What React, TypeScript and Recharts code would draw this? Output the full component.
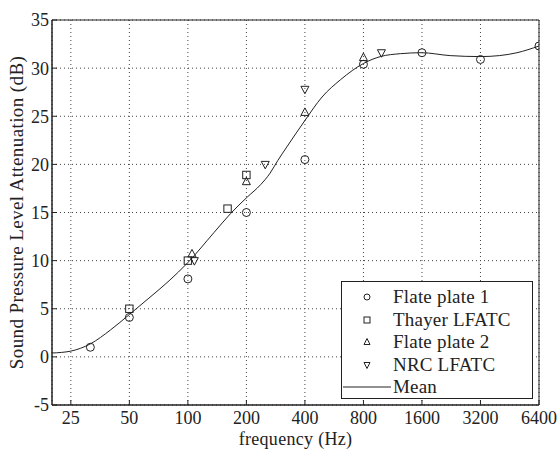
import React from 'react';
import {
  ComposedChart, Line, Scatter, XAxis, YAxis, CartesianGrid, ReferenceArea, Legend, Label,
} from 'recharts';

const xTicks = [25, 50, 100, 200, 400, 800, 1600, 3200, 6400];
const yTicks = [-5, 0, 5, 10, 15, 20, 25, 30, 35];

const flatePlate1 = [
  { f: 31.5, v: 1.0 }, { f: 50, v: 4.1 }, { f: 100, v: 8.1 }, { f: 200, v: 15.0 },
  { f: 400, v: 20.5 }, { f: 800, v: 30.4 }, { f: 1600, v: 31.6 }, { f: 3200, v: 30.9 },
  { f: 6400, v: 32.3 },
];
const thayer = [
  { f: 50, v: 5.0 }, { f: 100, v: 10.0 }, { f: 160, v: 15.4 }, { f: 200, v: 18.9 },
];
const flatePlate2 = [
  { f: 105, v: 10.7 }, { f: 200, v: 18.2 }, { f: 400, v: 25.4 }, { f: 800, v: 31.1 },
];
const nrc = [
  { f: 108, v: 10.0 }, { f: 250, v: 20.0 }, { f: 400, v: 27.8 }, { f: 990, v: 31.6 },
];
const mean = [
  { f: 20, v: 0.4 }, { f: 25, v: 0.6 }, { f: 31.5, v: 1.35 }, { f: 40, v: 2.8 },
  { f: 50, v: 4.4 }, { f: 63, v: 6.1 }, { f: 80, v: 7.9 }, { f: 100, v: 9.8 },
  { f: 136, v: 12.9 }, { f: 166, v: 14.9 }, { f: 202, v: 16.6 }, { f: 237, v: 17.9 },
  { f: 265, v: 19.1 }, { f: 290, v: 20.4 }, { f: 325, v: 21.9 }, { f: 395, v: 24.4 },
  { f: 490, v: 27.0 }, { f: 610, v: 28.8 }, { f: 803, v: 30.5 }, { f: 978, v: 31.2 },
  { f: 1238, v: 31.5 }, { f: 1590, v: 31.6 }, { f: 2235, v: 31.3 }, { f: 3200, v: 31.2 },
  { f: 4000, v: 31.3 }, { f: 4930, v: 31.6 }, { f: 6400, v: 32.3 },
];

const INK = '#222';
const FONT = "'Liberation Serif', 'Times New Roman', Times, 'DejaVu Serif', serif";

const CircleShape = (p: any) => (
  <circle cx={p.cx} cy={p.cy} r={4} fill="none" stroke={INK} strokeWidth={1} />
);
const SquareShape = (p: any) => (
  <rect x={p.cx - 3.7} y={p.cy - 3.7} width={7.4} height={7.4} fill="none" stroke={INK} strokeWidth={1} />
);
const TriUpShape = (p: any) => (
  <path d={`M${p.cx},${p.cy - 4.5} L${p.cx + 4},${p.cy + 3} L${p.cx - 4},${p.cy + 3} Z`} fill="none" stroke={INK} strokeWidth={1} />
);
const TriDownShape = (p: any) => (
  <path d={`M${p.cx},${p.cy + 4.5} L${p.cx + 4},${p.cy - 3} L${p.cx - 4},${p.cy - 3} Z`} fill="none" stroke={INK} strokeWidth={1} />
);

const NoLabel = () => <g />;

const legendItems = [
  { name: 'Flate plate 1', kind: 'circle' },
  { name: 'Thayer LFATC', kind: 'square' },
  { name: 'Flate plate 2', kind: 'up' },
  { name: 'NRC LFATC', kind: 'down' },
  { name: 'Mean', kind: 'line' },
];

const LegendIcon = ({ kind }: { kind: string }) => {
  const c = 12;
  const cy = 10;
  if (kind === 'circle') return <circle cx={c} cy={cy} r={3} fill="none" stroke={INK} />;
  if (kind === 'square') return <rect x={c - 3} y={cy - 3} width={6} height={6} fill="none" stroke={INK} />;
  if (kind === 'up') return <path d={`M${c},${cy - 3.5} L${c + 3},${cy + 2.5} L${c - 3},${cy + 2.5} Z`} fill="none" stroke={INK} />;
  if (kind === 'down') return <path d={`M${c},${cy + 3.5} L${c + 3},${cy - 2.5} L${c - 3},${cy - 2.5} Z`} fill="none" stroke={INK} />;
  return <line x1={-12} x2={36} y1={cy} y2={cy} stroke={INK} strokeWidth={1} />;
};

const LegendBox = () => (
  <div
    style={{
      width: 192, height: 118, border: `1px solid ${INK}`, background: '#fff',
      boxSizing: 'border-box', paddingTop: 4, fontFamily: FONT, fontSize: 19,
      color: INK, letterSpacing: 0.2,
    }}
  >
    {legendItems.map((it) => (
      <div key={it.name} style={{ display: 'flex', alignItems: 'center', height: 22.5 }}>
        <svg width={24} height={20} style={{ marginLeft: 13, overflow: 'visible' }}>
          <LegendIcon kind={it.kind} />
        </svg>
        <span style={{ marginLeft: 14, lineHeight: '22px' }}>{it.name}</span>
      </div>
    ))}
  </div>
);

export default function App() {
  return (
    <div style={{ position: 'absolute', left: 0, top: 0, background: '#fff', fontFamily: FONT }}>
      <ComposedChart
        width={558}
        height={451}
        margin={{ top: 20, right: 19, bottom: 0, left: 0 }}
      >
        <CartesianGrid stroke="#444" strokeDasharray="1 3" />
        <XAxis
          type="number"
          dataKey="f"
          scale="log"
          domain={[20, 6400]}
          ticks={xTicks}
          allowDataOverflow
          height={46}
          tickSize={-5}
          tickMargin={11}
          tickLine={{ stroke: INK }}
          axisLine={{ stroke: INK }}
          tick={{ fill: INK, fontSize: 18, fontFamily: FONT }}
          interval={0}
        >
          <Label value="frequency (Hz)" position="insideBottom" offset={0} dy={-6}
            style={{ fill: INK, fontSize: 18, fontFamily: FONT, letterSpacing: 0.3 }} />
        </XAxis>
        <XAxis
          xAxisId="top"
          orientation="top"
          type="number"
          dataKey="f"
          scale="log"
          domain={[20, 6400]}
          ticks={xTicks}
          allowDataOverflow
          height={0}
          tickSize={-5}
          tickLine={{ stroke: INK }}
          axisLine={{ stroke: INK }}
          tick={NoLabel}
          interval={0}
        />
        <YAxis
          type="number"
          dataKey="v"
          domain={[-5, 35]}
          ticks={yTicks}
          allowDataOverflow
          width={52}
          tickSize={-5}
          tickMargin={8}
          tickLine={{ stroke: INK }}
          axisLine={{ stroke: INK }}
          tick={{ fill: INK, fontSize: 18, fontFamily: FONT }}
          interval={0}
        >
          <Label value="Sound Pressure Level Attenuation (dB)" angle={-90} position="insideLeft"
            offset={0} dx={16}
            style={{ textAnchor: 'middle', fill: INK, fontSize: 19, fontFamily: FONT, letterSpacing: 0.4 }} />
        </YAxis>
        <YAxis
          yAxisId="right"
          orientation="right"
          type="number"
          dataKey="v"
          domain={[-5, 35]}
          ticks={yTicks}
          allowDataOverflow
          width={0}
          tickSize={-5}
          tickLine={{ stroke: INK }}
          axisLine={{ stroke: INK }}
          tick={NoLabel}
          interval={0}
        />
        <ReferenceArea x1={20} x2={6400} y1={-5} y2={35} fill="none" stroke={INK} strokeWidth={1} ifOverflow="visible" />
        <Line data={mean} dataKey="v" type="monotone" stroke={INK} strokeWidth={1} dot={false} isAnimationActive={false} name="Mean" />
        <Scatter data={flatePlate1} name="Flate plate 1" shape={CircleShape} isAnimationActive={false} />
        <Scatter data={thayer} name="Thayer LFATC" shape={SquareShape} isAnimationActive={false} />
        <Scatter data={flatePlate2} name="Flate plate 2" shape={TriUpShape} isAnimationActive={false} />
        <Scatter data={nrc} name="NRC LFATC" shape={TriDownShape} isAnimationActive={false} />
        <Legend
          layout="horizontal"
          verticalAlign="middle"
          align="center"
          content={() => <LegendBox />}
          wrapperStyle={{ position: 'absolute', left: 341, top: 281, width: 192, height: 118 }}
        />
      </ComposedChart>
    </div>
  );
}
